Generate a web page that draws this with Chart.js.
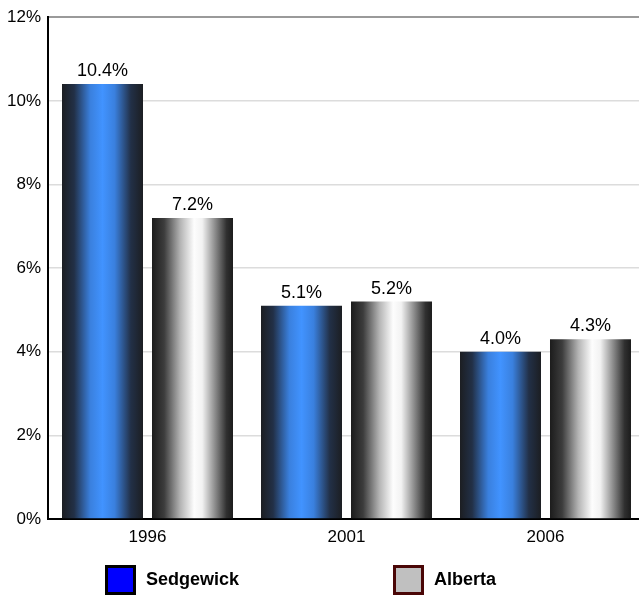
<!DOCTYPE html>
<html>
<head>
<meta charset="utf-8">
<script src="https://cdn.jsdelivr.net/npm/chart.js@4.4.1/dist/chart.umd.min.js"></script>
<style>
  html, body { margin: 0; padding: 0; background: #fff; }
  #wrap { width: 639px; height: 595px; }
</style>
</head>
<body>
<div id="wrap"><canvas id="barChart" width="639" height="595"></canvas></div>
<script>
var years = ["1996", "2001", "2006"];
var seriesNames = ["Sedgewick", "Alberta"];
var sedgewick = [10.4, 5.1, 4.0];
var alberta = [7.2, 5.2, 4.3];
var yMax = 12;
var yStep = 2;

// horizontal "cylinder" shading for each series
var blueStops = [[0, "#1c1e22"], [0.15, "#223047"], [0.35, "#3a80de"], [0.5, "#4193ff"], [0.65, "#3a80de"], [0.85, "#223047"], [1, "#1c1e22"]];
var greyStops = [[0, "#1c1c1c"], [0.15, "#3c3c3c"], [0.35, "#b4b4b4"], [0.52, "#fdfdfd"], [0.62, "#f2f2f2"], [0.8, "#7e7e7e"], [0.92, "#303030"], [1, "#1c1c1c"]];
var legendFill = ["#0000ff", "#c0c0c0"];
var legendBorder = ["#000000", "#4a0606"];

// the original plot runs a few pixels past the right edge of the picture
var overhang = {
    id: "overhang",
    afterLayout: function(chart) {
        var x = chart.scales.x;
        x.right += 6;
        x.width += 6;
        x.configure();
        chart.chartArea.right += 6;
        chart.chartArea.width += 6;
    }
};

var shadePlugin = {
    id: "shade",
    beforeDatasetsDraw: function(chart) {
        var ctx = chart.ctx;
        chart.data.datasets.forEach(function(ds, di) {
            var meta = chart.getDatasetMeta(di);
            meta.data.forEach(function(el) {
                var half = el.width / 2;
                var g = ctx.createLinearGradient(el.x - half, 0, el.x + half, 0);
                ds.stops.forEach(function(s) { g.addColorStop(s[0], s[1]); });
                el.options = Object.assign({}, el.options, { backgroundColor: g });
            });
        });
    }
};

var valueLabels = {
    id: "valueLabels",
    afterDatasetsDraw: function(chart) {
        var ctx = chart.ctx;
        ctx.save();
        ctx.font = "18px Arial, 'Liberation Sans', sans-serif";
        ctx.fillStyle = "#000";
        ctx.textAlign = "center";
        ctx.textBaseline = "alphabetic";
        chart.data.datasets.forEach(function(ds, di) {
            chart.getDatasetMeta(di).data.forEach(function(el, i) {
                ctx.fillText(ds.data[i].toFixed(1) + "%", el.x, el.y - 8);
            });
        });
        ctx.restore();
    }
};

// legend laid out in two fixed columns below the axis
var boxLegend = {
    id: "boxLegend",
    afterDraw: function(chart) {
        var ctx = chart.ctx;
        var cols = [105, 393];
        var top = 565;
        ctx.save();
        ctx.font = "bold 18px Arial, 'Liberation Sans', sans-serif";
        ctx.textBaseline = "middle";
        ctx.textAlign = "left";
        chart.data.datasets.forEach(function(ds, i) {
            var x = cols[i];
            ctx.fillStyle = legendFill[i];
            ctx.fillRect(x, top, 31, 30);
            ctx.lineWidth = 3;
            ctx.strokeStyle = legendBorder[i];
            ctx.strokeRect(x + 1.5, top + 1.5, 28, 27);
            ctx.fillStyle = "#000";
            ctx.fillText(ds.label, x + 41, top + 15);
        });
        ctx.restore();
    }
};

var canvas = document.getElementById("barChart");
var barChart = new Chart(canvas.getContext("2d"), {
    type: "bar",
    data: {
        labels: years,
        datasets: [
            { label: seriesNames[0], data: sedgewick, stops: blueStops, backgroundColor: "#4193ff" },
            { label: seriesNames[1], data: alberta, stops: greyStops, backgroundColor: "#e0e0e0" }
        ]
    },
    options: {
        responsive: false,
        animation: false,
        events: [],
        layout: { padding: { top: 14, right: 0, bottom: 40, left: 0 } },
        datasets: {
            bar: { categoryPercentage: 0.9045, barPercentage: 0.9, borderWidth: 0 }
        },
        plugins: {
            legend: { display: false },
            tooltip: { enabled: false }
        },
        scales: {
            x: {
                grid: { display: false, drawTicks: false },
                border: { color: "#000", width: 2 },
                ticks: {
                    color: "#000",
                    padding: 8,
                    font: { family: "Arial, 'Liberation Sans', sans-serif", size: 17 }
                },
                afterFit: function(scale) { scale.height = 36; }
            },
            y: {
                min: 0,
                max: yMax,
                border: { color: "#000", width: 2 },
                grid: {
                    drawTicks: false,
                    lineWidth: function(c) { return c.tick && c.tick.value === yMax ? 2 : 1.5; },
                    color: function(c) { return c.tick && c.tick.value === yMax ? "#9a9a9a" : "#dcdcdc"; }
                },
                ticks: {
                    stepSize: yStep,
                    color: "#000",
                    padding: 7,
                    font: { family: "Arial, 'Liberation Sans', sans-serif", size: 17 },
                    callback: function(v) { return v + "%"; }
                },
                afterFit: function(scale) { scale.width = 48; }
            }
        }
    },
    plugins: [overhang, shadePlugin, valueLabels, boxLegend]
});
</script>
</body>
</html>
